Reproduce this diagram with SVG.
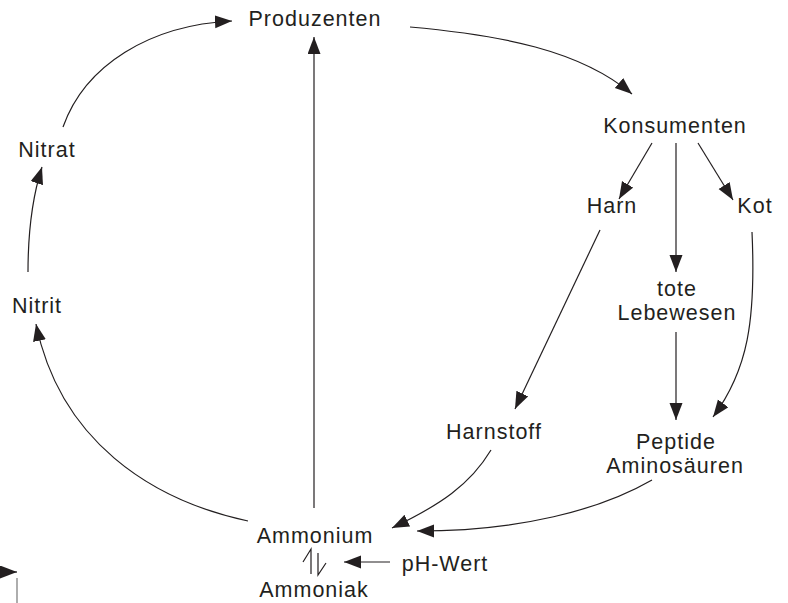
<svg xmlns="http://www.w3.org/2000/svg" width="788" height="603" viewBox="0 0 788 603">
<style>
text{font-family:"Liberation Sans",Arial,sans-serif;font-size:21.5px;letter-spacing:1px;fill:#231f20;text-anchor:middle}
.c{fill:none;stroke:#231f20;stroke-width:1.2}
</style>
<defs>
<marker id="ah" markerUnits="userSpaceOnUse" markerWidth="18" markerHeight="14" refX="17" refY="6.5" orient="auto">
<path d="M0,0 L17,6.5 L0,13 z" fill="#231f20"/>
</marker>
</defs>
<rect width="788" height="603" fill="#fff"/>
<g id="connectors">
<path class="c" d="M63,127 C85,65 150,25 232,21" marker-end="url(#ah)"/>
<path class="c" d="M28,272 C28,230 33,195 42,167" marker-end="url(#ah)"/>
<path class="c" d="M248,521 C150,500 60,440 36,324" marker-end="url(#ah)"/>
<path class="c" d="M314,508 L314,37" marker-end="url(#ah)"/>
<path class="c" d="M410,27 C500,35 580,50 632,94" marker-end="url(#ah)"/>
<path class="c" d="M652,143 L619,199" marker-end="url(#ah)"/>
<path class="c" d="M676,143 L676,272" marker-end="url(#ah)"/>
<path class="c" d="M698,143 L733,200" marker-end="url(#ah)"/>
<path class="c" d="M600,230 L515,409" marker-end="url(#ah)"/>
<path class="c" d="M676,332 L676,420" marker-end="url(#ah)"/>
<path class="c" d="M752,232 C756,320 748,370 713,417" marker-end="url(#ah)"/>
<path class="c" d="M491,450 C470,485 440,505 392,528" marker-end="url(#ah)"/>
<path class="c" d="M652,480 C600,510 520,531 417,531" marker-end="url(#ah)"/>
<path class="c" d="M390,562 L344,562" marker-end="url(#ah)"/>
<path class="c" d="M311,574 L311,549 L303,562"/>
<path class="c" d="M318,553 L318,575 L326,563"/>
<path class="c" d="M0,572 L17,572" marker-end="url(#ah)" stroke="#555"/>
<path d="M17,578 L17,603" stroke="#777" stroke-width="1.2"/>
</g>
<g id="produzenten"><text x="315" y="26">Produzenten</text></g>
<g id="konsumenten"><text x="675" y="133">Konsumenten</text></g>
<g id="harn"><text x="612" y="213">Harn</text></g>
<g id="kot"><text x="755" y="213">Kot</text></g>
<g id="tote-lebewesen"><text x="677" y="296">tote</text><text x="677" y="320">Lebewesen</text></g>
<g id="nitrat"><text x="47" y="157">Nitrat</text></g>
<g id="nitrit"><text x="37" y="313">Nitrit</text></g>
<g id="harnstoff"><text x="494" y="439">Harnstoff</text></g>
<g id="peptide"><text x="676" y="449">Peptide</text><text x="675" y="473">Aminosäuren</text></g>
<g id="ammonium"><text x="315" y="543">Ammonium</text></g>
<g id="ph-wert"><text x="445" y="571">pH-Wert</text></g>
<g id="ammoniak"><text x="314" y="597">Ammoniak</text></g>
</svg>
